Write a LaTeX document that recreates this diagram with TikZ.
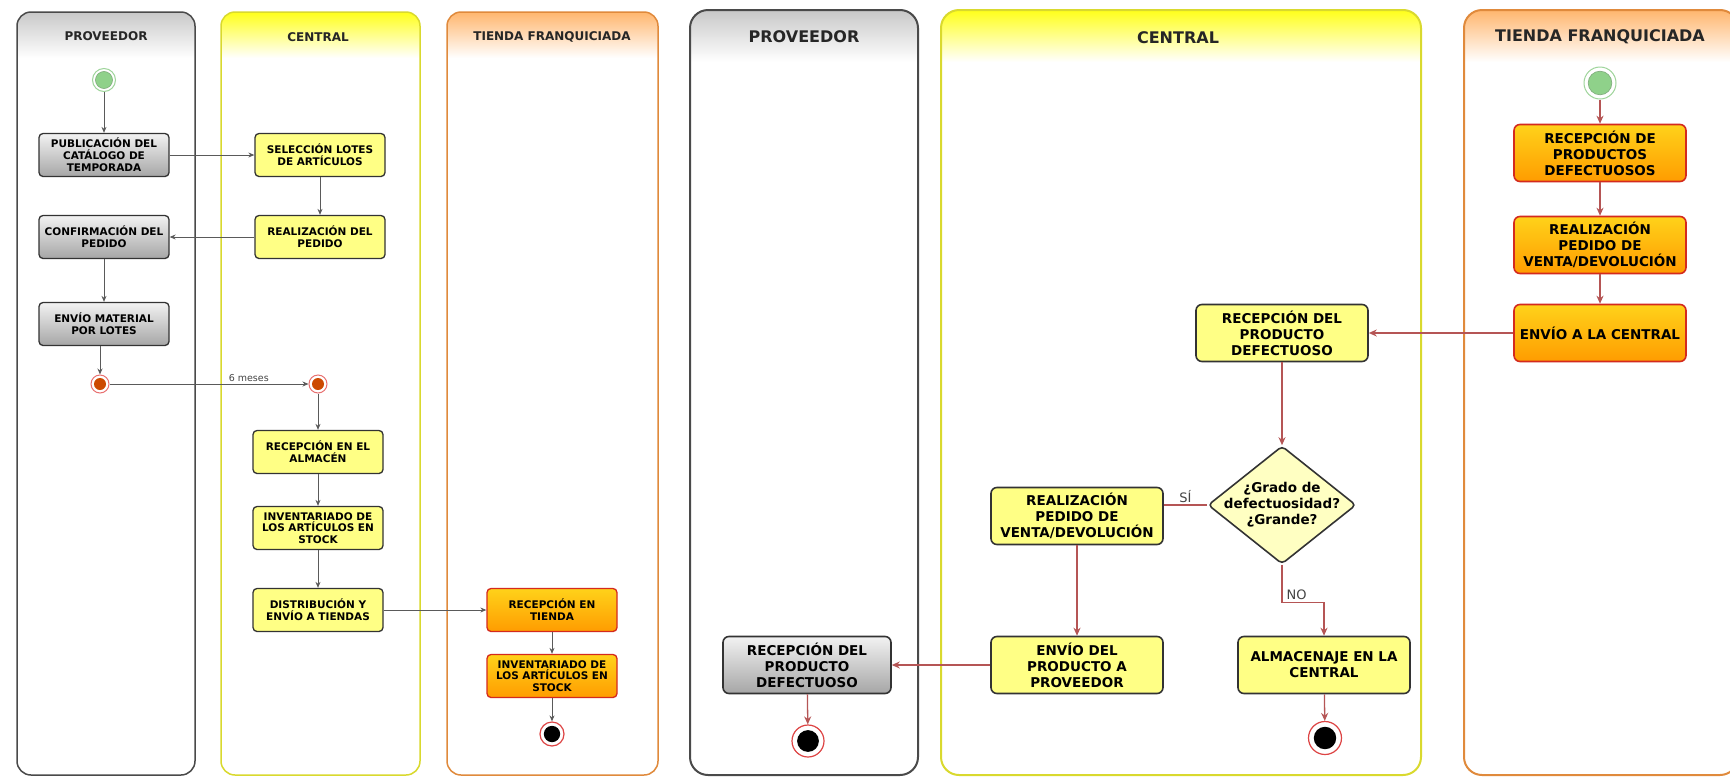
\documentclass[tikz,border=0pt]{standalone}
\usepackage{fontspec}
\setmainfont{DejaVu Sans}
\usetikzlibrary{shapes.geometric,arrows.meta}
\definecolor{lanegray}{HTML}{4A4A4A}
\definecolor{laneyel}{HTML}{D9D92E}
\definecolor{laneora}{HTML}{E08A3C}
\definecolor{hdgray}{HTML}{C8C8C8}
\definecolor{hdyel}{HTML}{FFFF1A}
\definecolor{hdora}{HTML}{FFB66E}
\definecolor{boxyel}{HTML}{FFFF85}
\definecolor{boxline}{HTML}{333333}
\definecolor{oratop}{HTML}{FFD21A}
\definecolor{orabot}{HTML}{FF9C00}
\definecolor{oraline}{HTML}{D42A1E}
\definecolor{graytop}{HTML}{F2F2F2}
\definecolor{graybot}{HTML}{A6A6A6}
\definecolor{arrgray}{HTML}{5A5A5A}
\definecolor{arrred}{HTML}{B55555}
\definecolor{diafill}{HTML}{FFFFC2}
\definecolor{startring}{HTML}{9ED49A}
\definecolor{startfill}{HTML}{8FD18A}
\definecolor{forkring}{HTML}{E87070}
\definecolor{forkfill}{HTML}{CC4A00}
\definecolor{endring}{HTML}{DD4444}
\definecolor{lbltxt}{HTML}{444444}
\tikzset{
  ltitle/.style={font=\bfseries\fontsize{12}{14}\selectfont, text=black!85},
  rtitle/.style={font=\bfseries\fontsize{16}{18}\selectfont, text=black!85},
  lbox/.style={rounded corners=4pt, line width=1.3pt, minimum width=130pt, minimum height=43pt,
    align=center, font=\bfseries\fontsize{10.5}{11.8}\selectfont, inner sep=1pt},
  rbox/.style={rounded corners=6pt, line width=1.6pt, minimum width=172pt, minimum height=57pt,
    align=center, font=\bfseries\fontsize{13.5}{16}\selectfont, inner sep=1pt},
  graybox/.style={draw=boxline, top color=graytop, bottom color=graybot},
  yelbox/.style={draw=boxline, fill=boxyel},
  orabox/.style={draw=oraline, top color=oratop, bottom color=orabot},
  garr/.style={draw=arrgray, line width=1pt, -{Stealth[length=6pt,width=5pt]}},
  rarr/.style={draw=arrred, line width=1.3pt, -{Stealth[length=8pt,width=7pt]}},
  rline/.style={draw=arrred, line width=1.3pt},
  startc/.style={circle, minimum size=#1, inner sep=0pt, draw=startring, line width=1pt, fill=white,
    path picture={\fill[startfill] (path picture bounding box.center) circle (0.37*#1);
                  \draw[startring!80!black, line width=0.6pt] (path picture bounding box.center) circle (0.37*#1);}},
  forkc/.style={circle, minimum size=18pt, inner sep=0pt, draw=forkring, line width=1pt, fill=white,
    path picture={\fill[forkfill] (path picture bounding box.center) circle (6pt);}},
  endc/.style={circle, minimum size=#1, inner sep=0pt, draw=endring, line width=1.2pt, fill=white,
    path picture={\fill[black] (path picture bounding box.center) circle (0.34*#1);}},
  lbl/.style={font=\fontsize{#1}{#1}\selectfont, text=lbltxt, inner sep=1pt},
  decision/.style={diamond, draw=boxline, line width=1.6pt, fill=diafill, minimum width=148pt,
    minimum height=118pt, inner sep=0pt, rounded corners=4pt}
}
\begin{document}
\begin{tikzpicture}[x=1pt,y=-1pt]
\useasboundingbox (0,0) rectangle (1730,777);
\fill[white] (0,0) rectangle (1730,777);
% ---------- lanes ----------
\begin{scope}\clip[rounded corners=14pt] (17,12) rectangle (195,775);
 \shade[top color=hdgray, bottom color=white] (17,12) rectangle (195,58);\end{scope}
\draw[lanegray, line width=1.5pt, rounded corners=14pt] (17,12) rectangle (195,775);
\begin{scope}\clip[rounded corners=14pt] (221,12) rectangle (420,775);
 \shade[top color=hdyel, bottom color=white] (221,12) rectangle (420,58);\end{scope}
\draw[laneyel, line width=1.5pt, rounded corners=14pt] (221,12) rectangle (420,775);
\begin{scope}\clip[rounded corners=14pt] (447,12) rectangle (658,775);
 \shade[top color=hdora, bottom color=white] (447,12) rectangle (658,58);\end{scope}
\draw[laneora, line width=1.5pt, rounded corners=14pt] (447,12) rectangle (658,775);
\begin{scope}\clip[rounded corners=18pt] (690,10) rectangle (918,775);
 \shade[top color=hdgray, bottom color=white] (690,10) rectangle (918,62);\end{scope}
\draw[lanegray, line width=2pt, rounded corners=18pt] (690,10) rectangle (918,775);
\begin{scope}\clip[rounded corners=18pt] (941,10) rectangle (1421,775);
 \shade[top color=hdyel, bottom color=white] (941,10) rectangle (1421,62);\end{scope}
\draw[laneyel, line width=2pt, rounded corners=18pt] (941,10) rectangle (1421,775);
\begin{scope}\clip[rounded corners=18pt] (1464,10) rectangle (1738,775);
 \shade[top color=hdora, bottom color=white] (1464,10) rectangle (1738,62);\end{scope}
\draw[laneora, line width=2pt, rounded corners=18pt] (1464,10) rectangle (1738,775);
% ---------- titles ----------
\node[ltitle] (t1) at (106,36) {PROVEEDOR};
\node[ltitle] (t2) at (318,37) {CENTRAL};
\node[ltitle] (t3) at (552,37) {TIENDA FRANQUICIADA};
\node[rtitle] (t4) at (804,37) {PROVEEDOR};
\node[rtitle] (t5) at (1178,38) {CENTRAL};
\node[rtitle] (t6) at (1600,37) {TIENDA FRANQUICIADA};
% ---------- left diagram ----------
\node[startc=23pt] (s1) at (104,80) {};
\node[lbox,graybox] (pub) at (104,155) {PUBLICACIÓN DEL\\CATÁLOGO DE\\TEMPORADA};
\node[lbox,yelbox] (sel) at (320,155) {SELECCIÓN LOTES\\DE ARTÍCULOS};
\node[lbox,graybox] (conf) at (104,237) {CONFIRMACIÓN DEL\\PEDIDO};
\node[lbox,yelbox] (real) at (320,237) {REALIZACIÓN DEL\\PEDIDO};
\node[lbox,graybox] (env) at (104,324) {ENVÍO MATERIAL\\POR LOTES};
\node[forkc] (f1) at (100,384) {};
\node[forkc] (f2) at (318,384) {};
\node[lbox,yelbox] (rec) at (318,452) {RECEPCIÓN EN EL\\ALMACÉN};
\node[lbox,yelbox] (inv) at (318,528) {INVENTARIADO DE\\LOS ARTÍCULOS EN\\STOCK};
\node[lbox,yelbox] (dist) at (318,610) {DISTRIBUCIÓN Y\\ENVÍO A TIENDAS};
\node[lbox,orabox,draw=oraline] (rt) at (552,610) {RECEPCIÓN EN\\TIENDA};
\node[lbox,orabox,draw=oraline] (it) at (552,676) {INVENTARIADO DE\\LOS ARTÍCULOS EN\\STOCK};
\node[endc=24pt] (e3) at (552,734) {};
\draw[garr] (s1) -- (pub);
\draw[garr] (pub) -- (sel);
\draw[garr] (sel) -- (real);
\draw[garr] (real) -- (conf);
\draw[garr] (conf) -- (env);
\draw[garr] (env.south -| f1) -- (f1);
\draw[garr] (f1) -- (f2) node[pos=0.70, above=1pt, lbl=9.5] {6 meses};
\draw[garr] (f2) -- (rec);
\draw[garr] (rec) -- (inv);
\draw[garr] (inv) -- (dist);
\draw[garr] (dist) -- (rt);
\draw[garr] (rt) -- (it);
\draw[garr] (it) -- (e3);
% ---------- right diagram ----------
\node[startc=32pt] (s6) at (1600,83) {};
\node[rbox,orabox] (rdef) at (1600,153) {RECEPCIÓN DE\\PRODUCTOS\\DEFECTUOSOS};
\node[rbox,orabox] (rped) at (1600,245) {REALIZACIÓN\\PEDIDO DE\\VENTA/DEVOLUCIÓN};
\node[rbox,orabox] (ecen) at (1600,333) {ENVÍO A LA CENTRAL};
\node[rbox,yelbox] (rcen) at (1282,333) {RECEPCIÓN DEL\\PRODUCTO\\DEFECTUOSO};
\node[decision, label={[font=\bfseries\fontsize{13.5}{16}\selectfont, align=center]center:{¿Grado de\\defectuosidad?\\¿Grande?}}] (dia) at (1282,505) {};
\node[rbox,yelbox] (rped5) at (1077,516) {REALIZACIÓN\\PEDIDO DE\\VENTA/DEVOLUCIÓN};
\node[rbox,yelbox] (env5) at (1077,665) {ENVÍO DEL\\PRODUCTO A\\PROVEEDOR};
\node[rbox,yelbox] (alm) at (1324,665) {ALMACENAJE EN LA\\CENTRAL};
\node[endc=33pt] (e5) at (1325,738) {};
\node[rbox,graybox,minimum width=168pt] (rprov) at (807,665) {RECEPCIÓN DEL\\PRODUCTO\\DEFECTUOSO};
\node[endc=32pt] (e4) at (808,741) {};
\draw[rarr] (s6) -- (rdef);
\draw[rarr] (rdef) -- (rped);
\draw[rarr] (rped) -- (ecen);
\draw[rarr] (ecen) -- (rcen);
\draw[rarr] (rcen) -- (dia);
\draw[rline] (dia.west) -- (dia.west -| rped5.east) node[midway, above=1pt, lbl=13] {SÍ};
\draw[rarr] (rped5) -- (env5);
\draw[rarr] (env5) -- (rprov);
\draw[rarr] (rprov) -- (e4);
\draw[rarr] (dia.south) -- ++(0,38) node[anchor=south west, xshift=3pt, yshift=1pt, lbl=13] {NO} -| (alm.north);
\draw[rarr] (alm) -- (e5);
\end{tikzpicture}
\end{document}
